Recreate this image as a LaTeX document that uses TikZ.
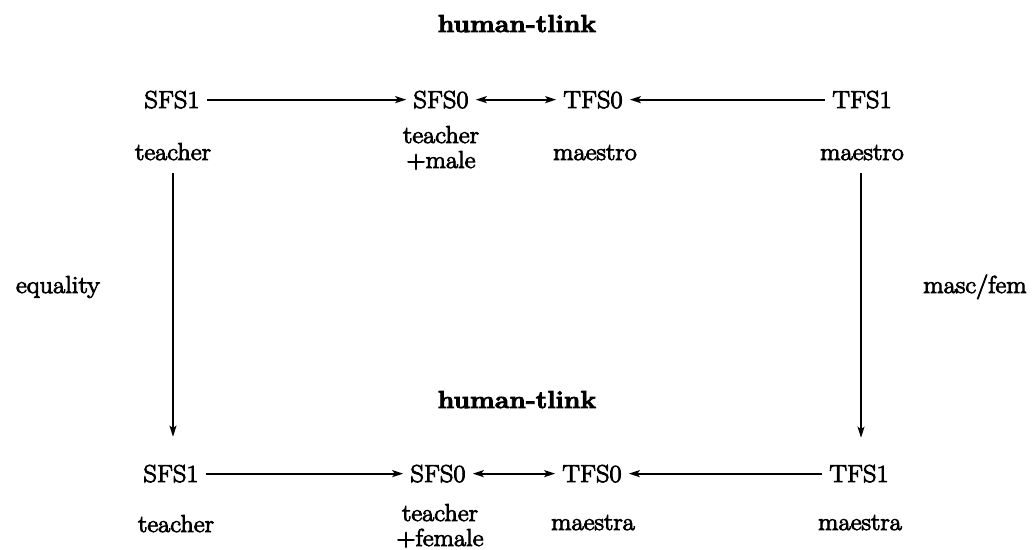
\documentclass[tikz,border=0pt]{standalone}
\usepackage{fontspec}
\setmainfont{Latin Modern Roman}[FakeBold=3.5,FakeStretch=1.08]
\usetikzlibrary{arrows.meta}
\begin{document}
\begin{tikzpicture}[x=1pt,y=-1pt,
  txt/.style={anchor=base,inner sep=0pt,font=\fontsize{24.5}{29}\selectfont},
  head/.style={txt,font=\fontsize{24.5}{29}\selectfont\bfseries},
  fs/.style={txt,inner xsep=7pt},
  arr/.style={line width=1.8pt,-{Stealth[length=11pt,width=7pt,inset=2.5pt]}},
  darr/.style={line width=1.8pt,{Stealth[length=11pt,width=7pt,inset=2.5pt]}-{Stealth[length=11pt,width=7pt,inset=2.5pt]}}]
  \fill[white] (0,0) rectangle (1035,549);
  \useasboundingbox (0,0) rectangle (1035,549);

  % upper square
  \node[head] (ht1) at (517,32) {human-tlink};
  \node[fs] (s1a) at (172,108) {SFS1};
  \node[fs] (s0a) at (441,108) {SFS0};
  \node[fs] (t0a) at (593,108) {TFS0};
  \node[fs] (t1a) at (862,108) {TFS1};
  \node[txt] (l1a) at (173,160) {teacher};
  \node[txt] (l2a) at (441,143) {teacher};
  \node[txt] (l2am) at (441,168) {+male};
  \node[txt] (l3a) at (595,160) {maestro};
  \node[txt] (l4a) at (862,160) {maestro};

  % side labels
  \node[txt] (eq) at (58,293) {equality};
  \node[txt] (mf) at (975,293) {masc/fem};

  % lower square
  \node[head] (ht2) at (517,408) {human-tlink};
  \node[fs] (s1b) at (171,482) {SFS1};
  \node[fs] (s0b) at (438,482) {SFS0};
  \node[fs] (t0b) at (592,482) {TFS0};
  \node[fs] (t1b) at (859,482) {TFS1};
  \node[txt] (l1b) at (176,532) {teacher};
  \node[txt] (l2b) at (440,521) {teacher};
  \node[txt] (l2bf) at (440,546) {+female};
  \node[txt] (l3b) at (593,530) {maestra};
  \node[txt] (l4b) at (860,530) {maestra};

  % horizontal links
  \draw[arr] (s1a) -- (s0a);
  \draw[darr] (s0a) -- (t0a);
  \draw[arr] (t1a) -- (t0a);
  \draw[arr] (s1b) -- (s0b);
  \draw[darr] (s0b) -- (t0b);
  \draw[arr] (t1b) -- (t0b);

  % vertical links
  \draw[arr,shorten <=13pt,shorten >=28pt] (l1a.south) -- (l1a.south |- s1b.north);
  \draw[arr,shorten <=13pt,shorten >=27pt] ([xshift=-1pt]l4a.south) -- ([xshift=-1pt]l4a.south |- t1b.north);
\end{tikzpicture}
\end{document}
